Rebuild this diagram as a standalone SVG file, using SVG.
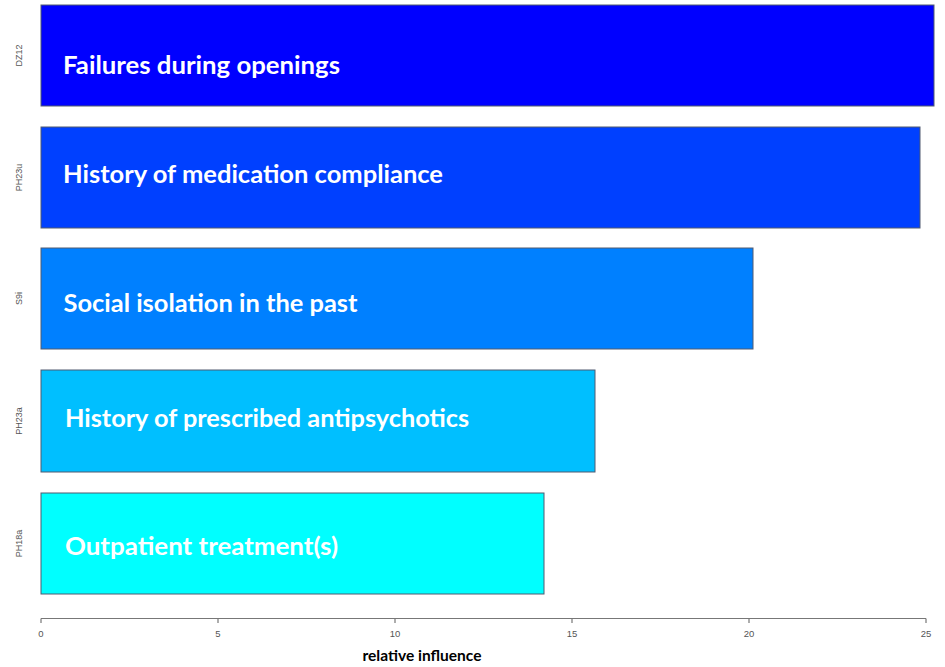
<svg xmlns="http://www.w3.org/2000/svg" width="945" height="667" viewBox="0 0 945 667">
<style>
.bar{stroke:#505a70;stroke-width:1}
.lbl{font-family:Lato,"Open Sans","Liberation Sans",sans-serif;font-weight:700;font-size:25px;fill:#ffffff}
.var{font-family:"Liberation Sans",Arial,sans-serif;font-size:9px;fill:#555555}
.tick{font-family:"Liberation Sans",Arial,sans-serif;font-size:9.5px;fill:#555555;text-anchor:middle}
.axis{stroke:#777777;stroke-width:1.2;fill:none}
.title{font-family:Lato,"Liberation Sans",sans-serif;font-weight:700;font-size:15px;fill:#000000;text-anchor:middle}
</style>
<rect width="945" height="667" fill="#ffffff"/>
<g id="bar-DZ12">
<rect class="bar" x="41" y="5" width="893" height="101" fill="#0000ff"/>
<text class="lbl" x="63" y="74" textLength="277" lengthAdjust="spacingAndGlyphs">Failures during openings</text>
<text class="var" transform="translate(22,55.5) rotate(-90)" text-anchor="middle">DZ12</text>
</g>
<g id="bar-PH23u">
<rect class="bar" x="41" y="127" width="879" height="101" fill="#0040ff"/>
<text class="lbl" x="63" y="183" textLength="380" lengthAdjust="spacingAndGlyphs">History of medication compliance</text>
<text class="var" transform="translate(22,177.5) rotate(-90)" text-anchor="middle">PH23u</text>
</g>
<g id="bar-S9i">
<rect class="bar" x="41" y="248" width="712" height="101" fill="#0080ff"/>
<text class="lbl" x="63.5" y="312" textLength="294" lengthAdjust="spacingAndGlyphs">Social isolation in the past</text>
<text class="var" transform="translate(22,298.5) rotate(-90)" text-anchor="middle">S9i</text>
</g>
<g id="bar-PH23a">
<rect class="bar" x="41" y="370" width="554" height="102" fill="#00bfff"/>
<text class="lbl" x="65" y="427" textLength="404" lengthAdjust="spacingAndGlyphs">History of prescribed antipsychotics</text>
<text class="var" transform="translate(22,421) rotate(-90)" text-anchor="middle">PH23a</text>
</g>
<g id="bar-PH18a">
<rect class="bar" x="41" y="493" width="503" height="101" fill="#00ffff"/>
<text class="lbl" x="65" y="555" textLength="273" lengthAdjust="spacingAndGlyphs">Outpatient treatment(s)</text>
<text class="var" transform="translate(22,543.5) rotate(-90)" text-anchor="middle">PH18a</text>
</g>
<g id="axis">
<path class="axis" d="M41,618.5 H926 M41,618.5 V623 M218,618.5 V623 M395,618.5 V623 M572,618.5 V623 M749,618.5 V623 M926,618.5 V623"/>
<text class="tick" x="41" y="637">0</text>
<text class="tick" x="218" y="637">5</text>
<text class="tick" x="395" y="637">10</text>
<text class="tick" x="572" y="637">15</text>
<text class="tick" x="749" y="637">20</text>
<text class="tick" x="926" y="637">25</text>
<text class="title" x="422" y="661" textLength="119" lengthAdjust="spacingAndGlyphs">relative influence</text>
</g>
</svg>
